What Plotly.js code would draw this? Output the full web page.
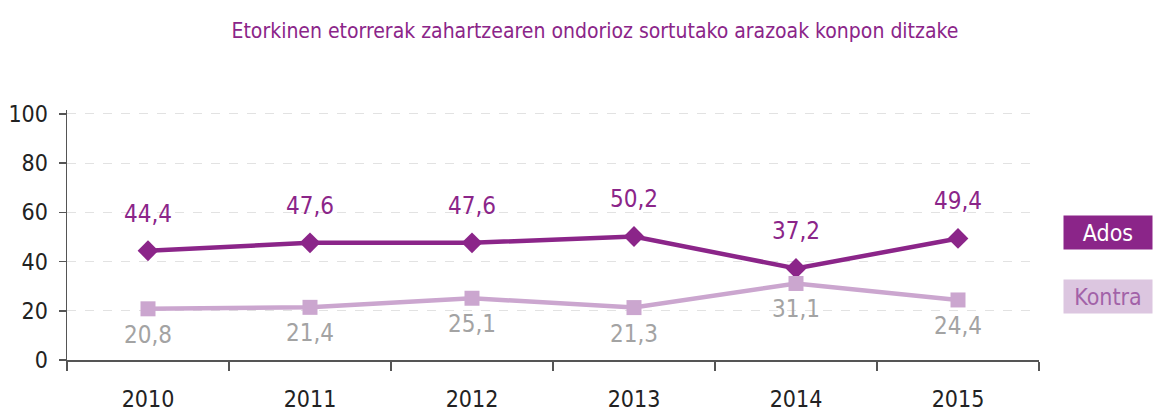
<!DOCTYPE html>
<html>
<head>
<meta charset="utf-8">
<script src="https://cdn.plot.ly/plotly-3.0.1.min.js"></script>
<style>html,body{margin:0;padding:0;background:#fff;}#chart{width:1153px;height:412px;}</style>
</head>
<body>
<div id="chart"></div>
<script>
const years = ['2010', '2011', '2012', '2013', '2014', '2015'];
const ados = [44.4, 47.6, 47.6, 50.2, 37.2, 49.4];
const kontra = [20.8, 21.4, 25.1, 21.3, 31.1, 24.4];
const seriesNames = ['Ados', 'Kontra'];
const titleText = 'Etorkinen etorrerak zahartzearen ondorioz sortutako arazoak konpon ditzake';

const FONT = '"DejaVu Sans Condensed", "Liberation Sans Narrow", sans-serif';
const cAdos = '#8b2589';
const cKontra = '#cba6cf';
const fmt = v => v.toFixed(1).replace('.', ',');

const traces = [
  {x: years, y: ados, name: seriesNames[0], mode: 'lines+markers', type: 'scatter',
   line: {color: cAdos, width: 4.5}, marker: {symbol: 'diamond', size: 16, color: cAdos}},
  {x: years, y: kontra, name: seriesNames[1], mode: 'lines+markers', type: 'scatter',
   line: {color: cKontra, width: 4.5}, marker: {symbol: 'square', size: 15, color: cKontra}}
];

const annotations = [];
years.forEach((yr, i) => {
  annotations.push({x: i, y: ados[i], xref: 'x', yref: 'y', text: fmt(ados[i]), showarrow: false,
    xanchor: 'center', yanchor: 'middle',
    yshift: 37, font: {family: FONT, size: 24, color: cAdos}});
  annotations.push({x: i, y: kontra[i], xref: 'x', yref: 'y', text: fmt(kontra[i]), showarrow: false,
    xanchor: 'center', yanchor: 'middle',
    yshift: -26, font: {family: FONT, size: 24, color: '#a3a3a3'}});
});
annotations.push({x: 1.071, y: 0.512, xref: 'paper', yref: 'paper', text: seriesNames[0], showarrow: false,
  xanchor: 'center', yanchor: 'middle',
  bgcolor: cAdos, width: 86, height: 31, font: {family: FONT, size: 23, color: '#ffffff'}});
annotations.push({x: 1.071, y: 0.256, xref: 'paper', yref: 'paper', text: seriesNames[1], showarrow: false,
  xanchor: 'center', yanchor: 'middle',
  bgcolor: '#dcc6e0', width: 86, height: 31, font: {family: FONT, size: 23, color: '#a262a8'}});

const layout = {
  width: 1153, height: 412,
  margin: {l: 67, r: 114, t: 110, b: 52},
  paper_bgcolor: '#ffffff', plot_bgcolor: '#ffffff',
  showlegend: false,
  font: {family: FONT},
  title: {text: titleText, x: 0.516, xanchor: 'center', y: 0.925, yanchor: 'middle',
    font: {family: FONT, size: 21, color: '#8b2589'}},
  xaxis: {type: 'category', range: [-0.5, 5.5], showgrid: false, zeroline: false,
    showline: true, linecolor: '#555555', linewidth: 1.5,
    ticks: 'outside', tickson: 'boundaries', ticklen: 9, tickcolor: '#555555', tickwidth: 1.5,
    ticklabelstandoff: 18,
    tickfont: {family: FONT, size: 23, color: '#222222'}},
  yaxis: {range: [0, 101.6], tickvals: [0, 20, 40, 60, 80, 100], showgrid: true,
    gridcolor: '#e2e2e2', griddash: 'dash', gridwidth: 1, zeroline: false,
    showline: true, linecolor: '#555555', linewidth: 1.5,
    ticks: 'outside', ticklen: 7, tickcolor: '#555555', tickwidth: 1.5,
    ticklabelstandoff: 6,
    tickfont: {family: FONT, size: 23, color: '#222222'}},
  annotations: annotations
};

Plotly.newPlot('chart', traces, layout, {displayModeBar: false, staticPlot: true});
</script>
</body>
</html>
